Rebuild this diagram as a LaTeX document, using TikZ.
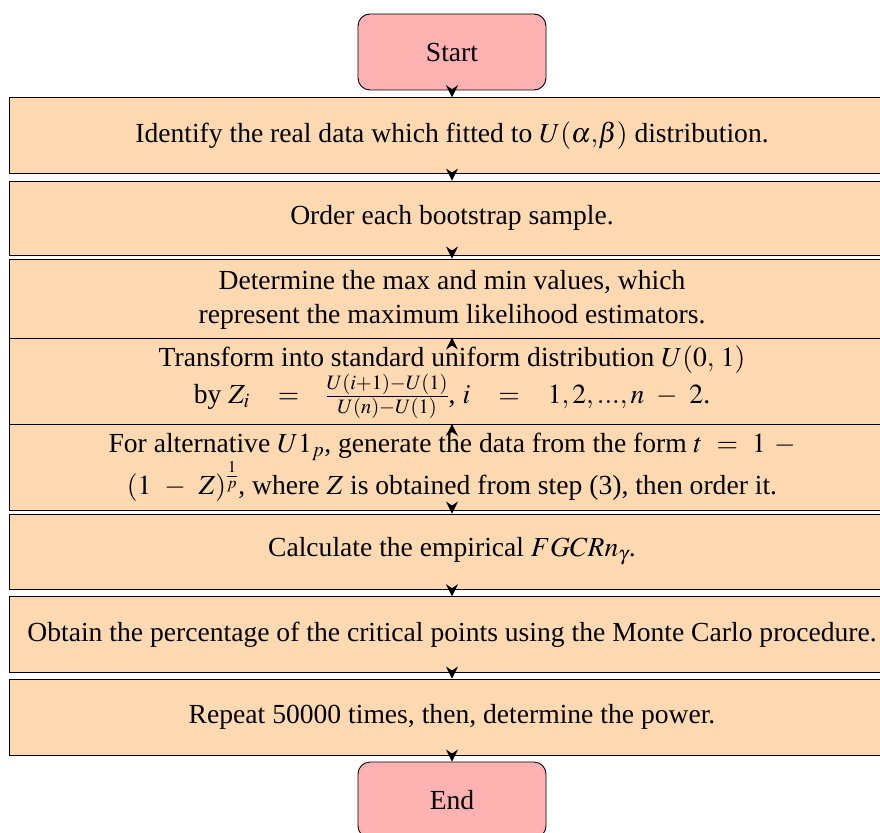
\documentclass[tikz,border=0pt]{standalone}
\usepackage{mathptmx}
\usepackage[no-math]{fontspec}
\setmainfont{Liberation Serif}
\usetikzlibrary{arrows.meta}
\begin{document}
\begin{tikzpicture}[x=1pt,y=-1pt,
  every node/.style={font=\fontsize{27.6}{34}\selectfont},
  term/.style={draw=black, line width=0.9pt, fill=red!30, rounded corners=12pt,
    minimum width=188pt, inner sep=0pt},
  procbox/.style={draw=black, line width=0.9pt, fill=orange!30,
    minimum width=886pt, inner sep=0pt, align=center},
  flow/.style={draw=black, line width=0.9pt, -{Stealth[length=12pt,width=12pt,inset=4pt]}}
]
\useasboundingbox (0,0) rectangle (880,832);

\node[term, minimum height=76pt] (start) at (452,52) {Start};
\node[procbox, minimum height=75.3pt] (b1) at (452,135.35)
  {Identify the real data which fitted to $U(\alpha{,}\beta)$ distribution.};
\node[procbox, minimum height=74.7pt] (b2) at (452,218.35)
  {Order each bootstrap sample.};
\node[procbox, minimum height=81pt] (b3) at (452,299.5)
  {Determine the max and min values, which\\represent the maximum likelihood estimators.};
\node[procbox, minimum height=88.5pt] (b4) at (452,382.25)
  {Transform into standard uniform distribution $U(0,\,1)$\\
   by $Z_i\hspace{22pt}=\hspace{20pt}\frac{U(i+1)-U(1)}{U(n)-U(1)}$, $i\hspace{22pt}=\hspace{22pt}1,2,...,n\hspace{8pt}-\hspace{8pt}2$.};
\node[procbox, minimum height=85.5pt] (b5) at (452,467.25)
  {For alternative $U1_p$, generate the data from the form $t\hspace{8pt}=\hspace{8pt}1\hspace{8pt}-$\\
   $(1\hspace{9pt}-\hspace{9pt}Z)^{\frac{1}{p}}$, where $Z$ is obtained from step (3), then order it.};
\node[procbox, minimum height=75pt] (b6) at (452,551.5)
  {Calculate the empirical $FGCRn_{\gamma}$.};
\node[procbox, minimum height=75.3pt] (b7) at (452,634.35)
  {Obtain the percentage of the critical points using the Monte Carlo procedure.};
\node[procbox, minimum height=76pt] (b8) at (452,717)
  {Repeat 50000 times, then, determine the power.};
\node[term, minimum height=76pt] (end) at (452,800) {End};

\draw[flow] (start.south) -- (b1.north);
\draw[flow] (b1.south) -- (b2.north);
\draw[flow] (b2.south) -- (b3.north);
\draw[flow] (b3.south) -- (b4.north);
\draw[flow] (b4.south) -- (b5.north);
\draw[flow] (b5.south) -- (b6.north);
\draw[flow] (b6.south) -- (b7.north);
\draw[flow] (b7.south) -- (b8.north);
\draw[flow] (b8.south) -- (end.north);
\end{tikzpicture}
\end{document}
